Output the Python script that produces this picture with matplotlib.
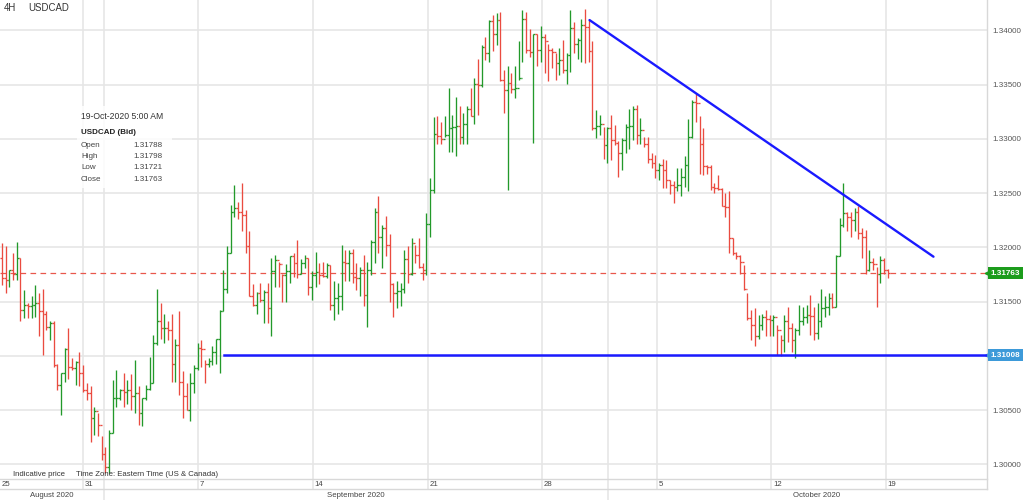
import numpy as np
import matplotlib.pyplot as plt
import matplotlib.transforms as mtransforms
from matplotlib.collections import LineCollection
from matplotlib.patches import Rectangle

plt.rcParams['font.family'] = ['Liberation Sans', 'DejaVu Sans']

# USDCAD 4H bars, prices given as pips above BASE (1.3176 -> 176)
BASE = 1.30
first_open = 190
high = [204, 201, 179, 195, 205, 190, 161, 149, 155, 165,
        158, 162, 141, 132, 132, 93, 84, 107, 126, 98,
        95, 104, 92, 75, 72, 53, 47, 26, 16, 32,
        78, 87, 70, 84, 78, 83, 96, 72, 61, 73,
        99, 119, 162, 149, 139, 132, 139, 116, 141, 86,
        75, 84, 92, 112, 115, 96, 98, 109, 116, 142,
        179, 201, 239, 258, 242, 259, 235, 215, 166, 159,
        167, 161, 167, 190, 193, 187, 176, 185, 192, 195,
        207, 189, 193, 190, 178, 196, 186, 187, 186, 184,
        169, 167, 202, 198, 198, 199, 186, 182, 193, 187,
        207, 236, 247, 221, 229, 212, 167, 169, 167, 198,
        201, 209, 202, 209, 186, 232, 264, 320, 321, 316,
        321, 347, 322, 339, 330, 324, 330, 347, 356, 374,
        387, 394, 410, 414, 416, 417, 364, 367, 361, 367,
        390, 419, 417, 401, 397, 397, 404, 397, 388, 384,
        379, 384, 391, 379, 419, 408, 393, 411, 420, 410,
        390, 327, 322, 311, 311, 322, 313, 298, 301, 314,
        328, 330, 331, 319, 302, 302, 287, 285, 278, 282,
        281, 262, 261, 273, 273, 284, 318, 336, 342, 321,
        310, 276, 276, 259, 267, 255, 250, 252, 209, 196,
        193, 184, 158, 142, 144, 138, 139, 142, 138, 138,
        129, 119, 138, 145, 130, 126, 147, 145, 147, 156,
        145, 149, 162, 155, 158, 158, 193, 227, 259, 233,
        233, 236, 238, 218, 216, 198, 190, 182, 192, 190, 179.8]
low = [165, 158, 164, 170, 170, 132, 135, 135, 135, 136,
       118, 101, 124, 115, 90, 69, 46, 76, 79, 87,
       73, 72, 67, 59, 21, 27, 26, 4, -8, -8,
       29, 53, 59, 53, 56, 50, 47, 36, 35, 59,
       69, 75, 110, 116, 112, 115, 76, 76, 64, 43,
       50, 40, 66, 87, 90, 75, 90, 92, 93, 84,
       141, 158, 195, 228, 226, 215, 195, 155, 146, 139,
       150, 130, 130, 118, 164, 164, 150, 150, 167, 173,
       172, 176, 181, 156, 152, 164, 166, 173, 172, 142,
       133, 139, 142, 169, 169, 167, 161, 155, 146, 127,
       175, 186, 195, 181, 192, 150, 136, 144, 146, 158,
       167, 175, 186, 181, 170, 175, 210, 250, 295, 295,
       302, 288, 288, 284, 295, 295, 295, 321, 314, 322,
       348, 373, 371, 381, 387, 353, 324, 253, 342, 338,
       354, 371, 379, 376, 296, 367, 371, 361, 353, 365,
       354, 359, 361, 351, 362, 379, 374, 371, 370, 371,
       308, 301, 304, 282, 278, 281, 294, 265, 271, 287,
       291, 299, 295, 295, 293, 278, 273, 264, 262, 255,
       255, 249, 241, 252, 247, 256, 252, 301, 316, 268,
       267, 268, 253, 250, 253, 238, 228, 195, 193, 189,
       176, 161, 133, 115, 109, 116, 124, 118, 118, 118,
       101, 100, 104, 113, 104, 98, 119, 129, 130, 119,
       115, 116, 127, 136, 138, 144, 145, 192, 219, 215,
       210, 215, 208, 190, 176, 178, 179, 145, 167, 176, 172.1]
close = [172, 170, 179, 176, 190, 142, 147, 146, 147, 149,
         141, 139, 127, 130, 92, 73, 84, 106, 90, 89,
         94, 84, 69, 66, 43, 49, 36, 10, -2, 29,
         61, 61, 69, 67, 69, 63, 66, 47, 61, 70,
         75, 112, 132, 126, 126, 124, 93, 110, 76, 63,
         50, 75, 89, 107, 106, 93, 95, 104, 116, 141,
         162, 195, 233, 236, 233, 230, 201, 155, 147, 158,
         152, 159, 144, 178, 188, 185, 175, 178, 192, 186,
         176, 186, 190, 164, 175, 177, 175, 174, 184, 147,
         153, 155, 187, 186, 195, 173, 172, 179, 156, 179,
         205, 233, 210, 218, 202, 166, 158, 160, 162, 189,
         176, 204, 193, 182, 179, 222, 253, 305, 303, 300,
         304, 310, 311, 312, 302, 314, 328, 321, 351, 350,
         385, 379, 409, 397, 410, 354, 345, 352, 346, 347,
         356, 411, 382, 380, 397, 382, 394, 390, 382, 380,
         370, 373, 364, 377, 402, 388, 391, 405, 403, 381,
         310, 312, 314, 294, 310, 299, 296, 287, 299, 311,
         312, 328, 304, 308, 295, 282, 278, 271, 276, 271,
         262, 258, 256, 258, 265, 276, 302, 334, 333, 295,
         275, 274, 256, 255, 254, 238, 237, 209, 195, 192,
         187, 162, 135, 129, 118, 129, 136, 134, 133, 136,
         124, 115, 132, 126, 115, 124, 132, 136, 138, 137,
         121, 132, 144, 145, 153, 145, 192, 221, 232, 228,
         225, 233, 213, 210, 179, 187, 185, 176, 188, 178.8, 176.3]

# axis labels: bar positions of week starts / month starts
week_pos = [22.0, 53.0, 84.2, 115.3, 146.3, 177.4, 208.4, 239.5]
day_labels = ['31', '7', '14', '21', '28', '5', '12', '19']
month_pos = [27.7, 164.3]
month_names = ['August 2020', 'September 2020', 'October 2020']
price_ticks = [1.300, 1.305, 1.310, 1.315, 1.320, 1.325, 1.330, 1.335, 1.340]

last_price = 1.31763
support = 1.31008
support_start = 60.2
trend_x = [159.2, 252.4]
trend_y = [1.34096, 1.31915]
tip_rows = [('Open', '1.31788'), ('High', '1.31798'), ('Low', '1.31721'), ('Close', '1.31763')]

hi = BASE + np.array(high) / 10000
lo = BASE + np.array(low) / 10000
cl = BASE + np.array(close) / 10000
op = np.concatenate([[BASE + first_open / 10000], cl[:-1]])
n = len(cl)
idx = np.arange(n)

fig = plt.figure(figsize=(10.24, 5.0), dpi=100)
AXW, AXH = 987, 479
ax = fig.add_axes([0, (500 - AXH) / 500, AXW / 1024, AXH / 500])
ax.set_xlim(-0.54, 266.9)
ax.set_ylim(1.29866, 1.34281)
for s in ax.spines.values():
    s.set_visible(False)

grid_c = '#e6e6e6'
line_c = '#d8d8d8'
for p in price_ticks:
    ax.axhline(p, color=grid_c, lw=1.2, zorder=0)
below = -10 / AXH
for w in week_pos:
    ax.axvline(w, ymin=below, ymax=1, color=grid_c, lw=1.2, clip_on=False, zorder=0)
for m in month_pos:
    ax.axvline(m, ymin=-21 / AXH, ymax=1, color=grid_c, lw=1.2, clip_on=False, zorder=0)

ax.plot([0, 1], [0, 0], transform=ax.transAxes, color=line_c, lw=1, clip_on=False)
ax.plot([0, 1], [below, below], transform=ax.transAxes, color=line_c, lw=1, clip_on=False)
ax.plot([1, 1], [below, 1], transform=ax.transAxes, color=line_c, lw=1, clip_on=False)

# OHLC bars
up = cl >= op
green, red = '#22992a', '#ea4b40'
cols = [green if u else red for u in up]
tk = 0.5
segs = []
seg_cols = []
for i in idx:
    segs.append([(i, lo[i]), (i, hi[i])])
    segs.append([(i - tk, op[i]), (i, op[i])])
    segs.append([(i, cl[i]), (i + tk, cl[i])])
    seg_cols += [cols[i]] * 3
ax.add_collection(LineCollection(segs, colors=seg_cols, linewidths=0.95, zorder=3))

# last price and drawings
ax.axhline(last_price, color='#e8574c', lw=0.9, linestyle=(0, (4.5, 3.5)), zorder=2)
ax.plot([support_start, 266.9], [support, support], color='#1a1aff', lw=1.8, zorder=4)
ax.plot(trend_x, trend_y, color='#1a1aff', lw=1.7, zorder=4, solid_capstyle='round')

# right axis
ax.yaxis.tick_right()
ax.set_yticks(price_ticks)
ax.set_yticklabels(['%.5f' % p for p in price_ticks])
ax.tick_params(axis='y', length=0, pad=4, labelsize=5.8, labelcolor='#555555')
ax.set_xticks([])

blend = mtransforms.blended_transform_factory(ax.transAxes, ax.transData)
for val, fc in [(last_price, '#1c9c1c'), (support, '#3d9ad9')]:
    ax.text(1.004, val, '%.5f' % val, transform=blend, ha='left', va='center',
            fontsize=5.9, fontweight='bold', color='white', clip_on=False,
            bbox=dict(boxstyle='square,pad=0.32', fc=fc, ec='none'))
    ax.plot([1.0], [val], marker='<', ms=3.2, color=fc, transform=blend, clip_on=False)

# date labels
bx = mtransforms.blended_transform_factory(ax.transData, ax.transAxes)
ax.text(0.0, -5 / AXH, '25', transform=bx, ha='left', va='center', fontsize=5.6, color='#444444')
for w, lab in zip(week_pos, day_labels):
    ax.text(w + 0.5, -5 / AXH, lab, transform=bx, ha='left', va='center',
            fontsize=5.6, color='#444444')
edges = [-0.54] + month_pos + [277.0]
for k, name in enumerate(month_names):
    ax.text((edges[k] + edges[k + 1]) / 2, -16.5 / AXH, name, transform=bx,
            ha='center', va='center', fontsize=5.6, color='#444444', clip_on=False)


def px(x, y):
    return x / AXW, 1 - y / AXH


ax.text(*px(4, 8), '4H', transform=ax.transAxes, ha='left', va='center', fontsize=6.9, color='#333333')
ax.text(*px(28, 8), 'USDCAD', transform=ax.transAxes, ha='left', va='center', fontsize=6.9, color='#333333')
ax.text(*px(13, 474), 'Indicative price', transform=ax.transAxes, ha='left', va='center',
        fontsize=5.6, color='#333333')
ax.text(*px(76, 474), 'Time Zone: Eastern Time (US & Canada)', transform=ax.transAxes,
        ha='left', va='center', fontsize=5.6, color='#333333')

# hover tooltip
x0, y0 = px(77, 188)
ax.add_patch(Rectangle((x0, y0), 95 / AXW, 82 / AXH, transform=ax.transAxes,
                       fc='white', ec='none', alpha=0.85, zorder=6))
ax.text(*px(81, 116), '19-Oct-2020 5:00 AM', transform=ax.transAxes, ha='left', va='center',
        fontsize=6.2, color='#333333', zorder=7)
ax.text(*px(81, 132), 'USDCAD (Bid)', transform=ax.transAxes, ha='left', va='center',
        fontsize=5.8, fontweight='bold', color='#222222', zorder=7)
for k, (lab, val) in enumerate(tip_rows):
    yy = 145.3 + k * 11.3
    ax.text(*px(81, yy), lab, transform=ax.transAxes, ha='left', va='center',
            fontsize=5.8, color='#444444', zorder=7)
    ax.text(*px(163, yy), val, transform=ax.transAxes, ha='right', va='center',
            fontsize=5.8, color='#444444', zorder=7)

fig.savefig('out.png', dpi=100, facecolor='white')
